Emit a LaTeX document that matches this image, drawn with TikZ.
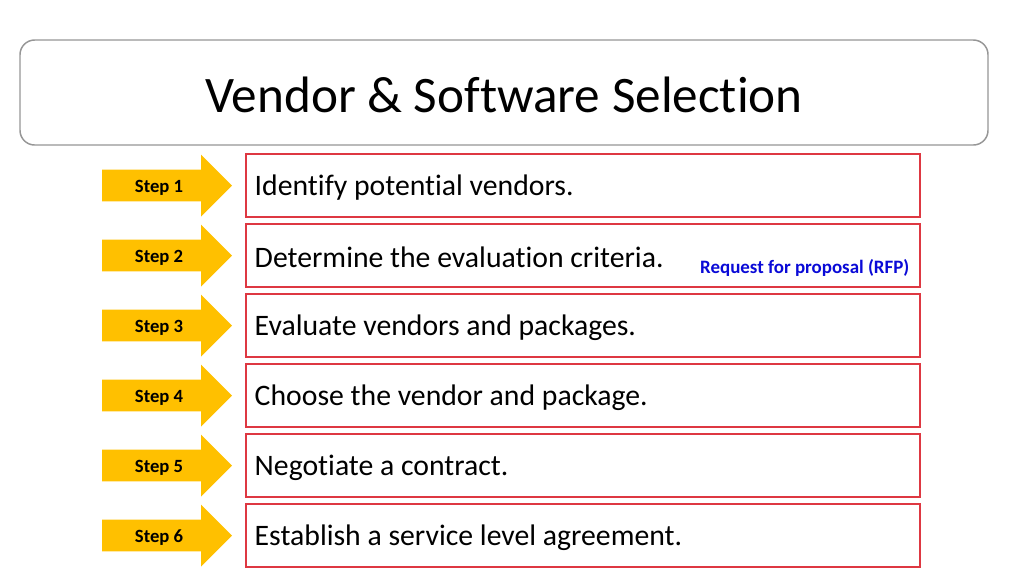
\documentclass[tikz,border=0pt]{standalone}
\usepackage{fontspec}
\setmainfont{Carlito}[Ligatures={NoCommon}]
\usetikzlibrary{positioning}
\definecolor{stepgold}{RGB}{255,192,0}
\definecolor{boxred}{RGB}{222,56,66}
\definecolor{titlegray}{RGB}{150,150,150}
\definecolor{rfpblue}{RGB}{10,10,215}
\begin{document}
\begin{tikzpicture}[x=0.75pt,y=0.75pt,yscale=-1,xscale=1,
  titlebox/.style={draw=titlegray,line width=1.1pt,rounded corners=11pt,fill=white,minimum width=726pt,minimum height=78.75pt,inner sep=0pt},
  stepbox/.style={draw=boxred,line width=0.8pt,fill=white,minimum width=505.5pt,minimum height=47.25pt,inner sep=0pt},
  steptext/.style={anchor=west,inner sep=0pt,font=\fontsize{22.3}{26}\selectfont},
  steplabel/.style={inner sep=0pt,font=\fontsize{14}{16}\selectfont\bfseries},
  rfplabel/.style={inner sep=0pt,font=\fontsize{14.2}{16}\selectfont\bfseries,text=rfpblue}]
\useasboundingbox (0,0) rectangle (1024,576);

%Rounded Rect title
\node [titlebox] (title) at (504,92.5) {};
% Text Node
\node [inner sep=0pt,font=\fontsize{38.4}{44}\selectfont] (titletext) at (504,95) {Vendor \& Software Selection};

%Steps: arrow, box, text
\foreach \i/\txt in {1/Identify potential vendors.,2/Determine the evaluation criteria.,3/Evaluate vendors and packages.,4/Choose the vendor and package.,5/Negotiate a contract.,6/Establish a service level agreement.}{
  \pgfmathsetmacro{\y}{185.5+70*(\i-1)}
  \fill [stepgold] (102,\y-15.8) -- (201,\y-15.8) -- (201,\y-31) -- (232,\y) -- (201,\y+31) -- (201,\y+15.8) -- (102,\y+15.8) -- cycle ;
  \node [steplabel] (step\i) at (159,\y+2) {Step \i};
  \node [stepbox] (box\i) at (583,\y) {};
  \node [steptext] (text\i) at ([xshift=6.75pt,yshift=1.5pt]box\i.west) {\txt};
}

% Text Node
\node [rfplabel,anchor=east] (rfp) at ([xshift=-8.25pt,yshift=9.4pt]box2.east) {Request for proposal (RFP)};
\end{tikzpicture}
\end{document}
